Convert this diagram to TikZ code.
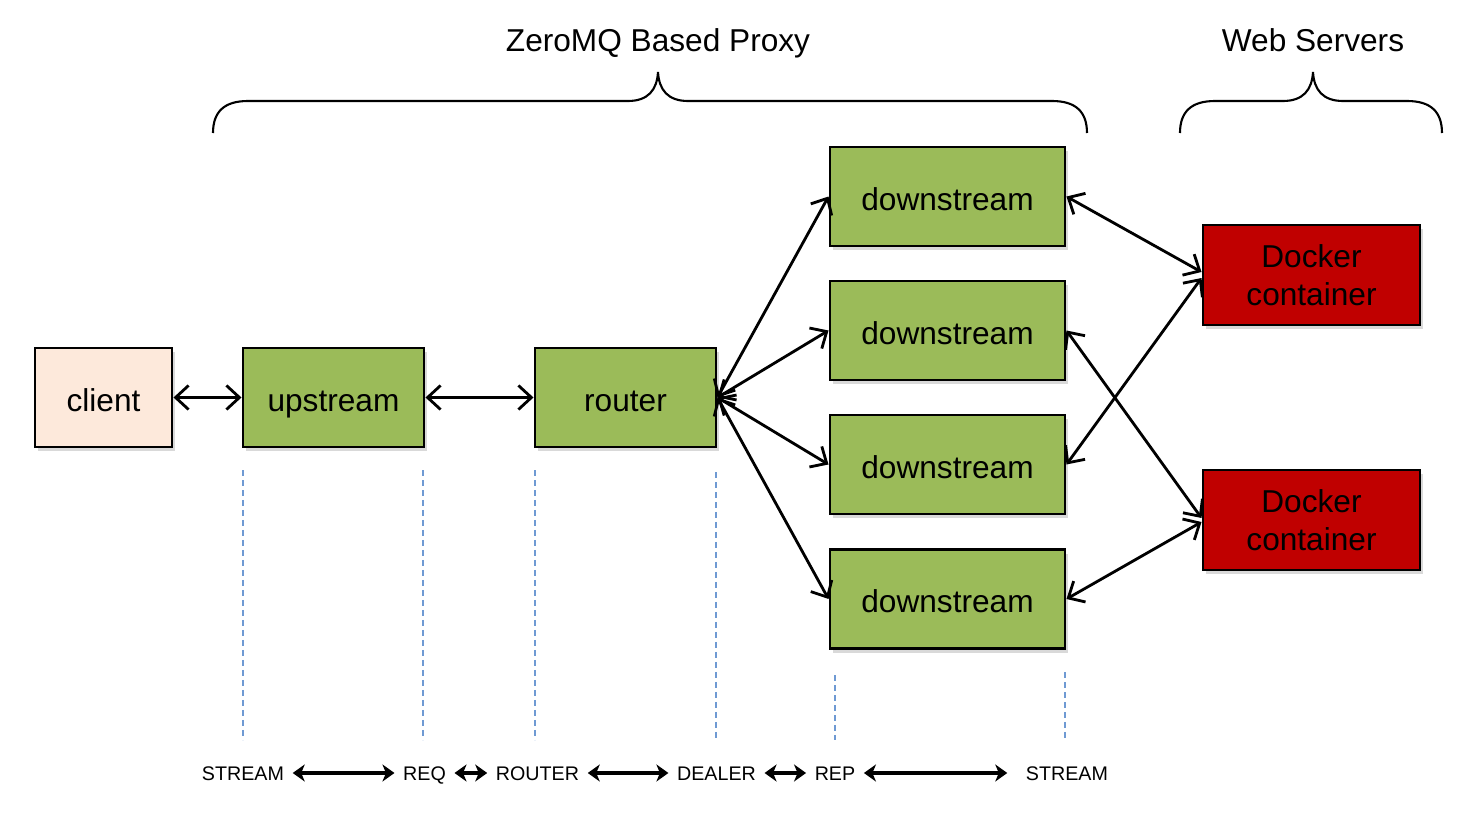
\documentclass[tikz,border=0pt]{standalone}
\usepackage{fontspec}
\setmainfont{Liberation Sans}
\usepackage{tikz}
\usetikzlibrary{arrows.meta}
\usetikzlibrary{shadows}
\definecolor{boxgreen}{HTML}{9BBB59}
\definecolor{clientpeach}{HTML}{FDE9DB}
\definecolor{dockerred}{HTML}{C00000}
\definecolor{sockblue}{HTML}{6F9AD3}
\tikzset{
	box/.style={draw=black,line width=0.85pt,inner sep=0pt,minimum height=9.9mm,font=\fontsize{9}{10.8}\selectfont,drop shadow={shadow xshift=0.3mm,shadow yshift=-0.4mm,opacity=0.3}},
	onebox/.style={box,text height=7.8pt,text depth=0pt},
	proxybox/.style={onebox,fill=boxgreen,minimum width=18.1mm},
	dockbox/.style={box,fill=dockerred,minimum width=21.7mm,minimum height=10mm,align=center},
	link/.style={line width=0.8pt,>={Straight Barb[length=1.3mm,width=2.4mm]},<->},
	socklink/.style={line width=0.9pt,>={Stealth[length=1.2mm,width=1.7mm,inset=0.35mm]},<->},
	sockline/.style={sockblue,line width=0.4pt,dash pattern=on 0.6mm off 0.4mm},
	socklabel/.style={font=\fontsize{5.6}{6.7}\selectfont,inner sep=0.8mm,text height=4pt,text depth=0pt},
	heading/.style={font=\fontsize{9}{10.8}\selectfont,text height=6.4pt,text depth=0pt},
	groupbrace/.style={line width=0.6pt}
}
\begin{document}
\begin{tikzpicture}[x=0.1mm,y=-0.1mm]
	\useasboundingbox (0,0) rectangle (1478,816);
	% titles and braces
	\node[heading] (proxytitle) at (658,40) {ZeroMQ Based Proxy};
	\node[heading] (webtitle) at (1313,40) {Web Servers};
	\draw[groupbrace] (213,133) .. controls (213,112) and (224,101) .. (248,101) -- (628,101)
		.. controls (648,101) and (657,90) .. (658,72) .. controls (659,90) and (668,101) .. (688,101)
		-- (1052,101) .. controls (1076,101) and (1087,112) .. (1087,133);
	\draw[groupbrace] (1180,133) .. controls (1180,112) and (1191,101) .. (1215,101) -- (1283,101)
		.. controls (1303,101) and (1312,90) .. (1313,72) .. controls (1314,90) and (1323,101) .. (1343,101)
		-- (1407,101) .. controls (1431,101) and (1442,112) .. (1442,133);
	% boxes
	\node[onebox,fill=clientpeach,minimum width=13.7mm] (client) at (103.5,397.5) {client};
	\node[proxybox] (upstream) at (333.5,397.5) {upstream};
	\node[proxybox] (router) at (625.5,397.5) {router};
	\foreach \i/\y in {1/196.5,2/330.5,3/464.5,4/599}
		\node[proxybox,minimum width=23.5mm] (ds\i) at (947.5,\y) {downstream};
	\node[dockbox] (dock1) at (1311.5,275) {Docker\\container};
	\node[dockbox] (dock2) at (1311.5,520) {Docker\\container};
	% connectors
	\draw[link] (client) -- (upstream);
	\draw[link] (upstream) -- (router);
	\foreach \i in {1,...,4}
		\draw[link] (router.east) -- (ds\i.west);
	\draw[link] (ds1.east) -- ([yshift=0.3mm]dock1.west);
	\draw[link] (ds3.east) -- ([yshift=-0.3mm]dock1.west);
	\draw[link] (ds2.east) -- ([yshift=0.2mm]dock2.west);
	\draw[link] (ds4.east) -- ([yshift=-0.2mm]dock2.west);
	% socket types
	\foreach \x/\t in {243/470,423/470,535/470,716/472,835/675,1065/672}
		\draw[sockline] (\x,\t) -- (\x,740);
	\node[socklabel] (s1) at (243,773) {STREAM};
	\node[socklabel] (s2) at (424.5,773) {REQ};
	\node[socklabel] (s3) at (537.5,773) {ROUTER};
	\node[socklabel] (s4) at (716.5,773) {DEALER};
	\node[socklabel] (s5) at (835,773) {REP};
	\node[socklabel] (s6) at (1067,773) {STREAM};
	\foreach \a/\b in {s1/s2,s2/s3,s3/s4,s4/s5}
		\draw[socklink] (\a) -- (\b);
	\draw[socklink,shorten >=1mm] (s5) -- (s6);
\end{tikzpicture}
\end{document}
